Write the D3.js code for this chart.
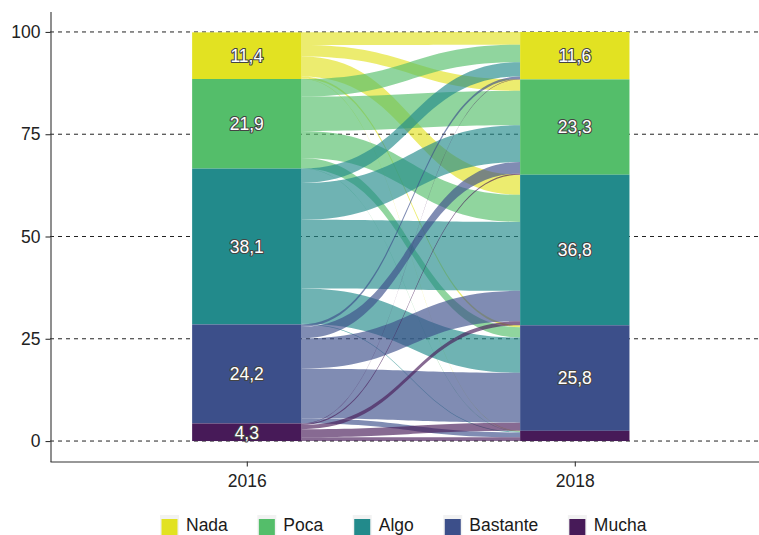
<!DOCTYPE html>
<html>
<head>
<meta charset="utf-8">
<script src="https://cdn.jsdelivr.net/npm/d3@7"></script>
<style>
  html, body { margin: 0; padding: 0; background: #fff; }
  svg { display: block; }
</style>
</head>
<body>
<script>
// ---------------- data ----------------
const years = ["2016", "2018"];
const categories = ["Nada", "Poca", "Algo", "Bastante", "Mucha"];
const colors = ["#E2E222", "#54BE6A", "#228A8B", "#3C4F8A", "#471A58"];
const totals2016 = [11.4, 21.9, 38.1, 24.2, 4.3];
const totals2018 = [11.6, 23.3, 36.8, 25.8, 2.5];
const labels2016 = ["11,4", "21,9", "38,1", "24,2", "4,3"];
const labels2018 = ["11,6", "23,3", "36,8", "25,8", ""];
// flows from each 2016 category to the 2018 categories (Nada, Poca, Algo, Bastante, Mucha)
const fromNada     = [3.1, 2.8, 4.9, 0.5, 0.1];
const fromPoca     = [4.3, 8.4, 6.6, 2.5, 0.1];
const fromAlgo     = [3.5, 9.0, 16.8, 8.6, 0.2];
const fromBastante = [0.6, 2.8, 7.4, 12.2, 1.2];
const fromMucha    = [0.1, 0.3, 1.0, 2.0, 0.9];
const yTicks = [0, 25, 50, 75, 100];

// ---------------- layout ----------------
const W = 759, H = 535;
const font = "'Liberation Sans', Arial, Helvetica, sans-serif";
const svg = d3.select("body").append("svg")
  .attr("width", W).attr("height", H)
  .style("font-family", font);

const x = d3.scalePoint().domain(years).range([50, 771.6]).padding(0.6);
const y = d3.scaleLinear().domain([-5, 105]).range([461.5, 11.5]);
const half = x.step() / 6;

// gridlines
svg.append("g").selectAll("line").data(yTicks).join("line")
  .attr("x1", 50).attr("x2", W)
  .attr("y1", d => y(d)).attr("y2", d => y(d))
  .attr("stroke", "#222").attr("stroke-width", 1)
  .attr("stroke-dasharray", "4,4");

// flows
const flows = [fromNada, fromPoca, fromAlgo, fromBastante, fromMucha];
const n = categories.length;
function stackTops(totals) {
  const tops = [];
  let acc = 0;
  for (let i = n - 1; i >= 0; i--) { acc += totals[i]; tops[i] = acc; }
  return tops;
}
const topL = stackTops(totals2016), topR = stackTops(totals2018);
const lodeL = flows.map(() => []), lodeR = flows.map(() => []);
for (let i = 0; i < n; i++) {
  const s = totals2016[i] / d3.sum(flows[i]);
  let c = topL[i];
  for (let j = 0; j < n; j++) { const h = flows[i][j] * s; lodeL[i][j] = [c, c - h]; c -= h; }
}
for (let j = 0; j < n; j++) {
  const colSum = d3.sum(flows, r => r[j]);
  const s = totals2018[j] / colSum;
  let c = topR[j];
  for (let i = 0; i < n; i++) { const h = flows[i][j] * s; lodeR[i][j] = [c, c - h]; c -= h; }
}
const x0 = x(years[0]) + half, x1 = x(years[1]) - half, xm = (x0 + x1) / 2;
const flowData = [];
for (let i = 0; i < n; i++) for (let j = 0; j < n; j++) flowData.push({ i, j });
svg.append("g").selectAll("path").data(flowData).join("path")
  .attr("d", d => {
    const a0 = y(lodeL[d.i][d.j][0]), a1 = y(lodeL[d.i][d.j][1]);
    const b0 = y(lodeR[d.i][d.j][0]), b1 = y(lodeR[d.i][d.j][1]);
    return `M${x0},${a0}C${xm},${a0} ${xm},${b0} ${x1},${b0}L${x1},${b1}C${xm},${b1} ${xm},${a1} ${x0},${a1}Z`;
  })
  .attr("fill", d => colors[d.i])
  .attr("fill-opacity", 0.65);

// strata
const strata = [];
years.forEach((yr, k) => {
  const totals = k === 0 ? totals2016 : totals2018;
  const tops = k === 0 ? topL : topR;
  const labs = k === 0 ? labels2016 : labels2018;
  for (let i = 0; i < n; i++) strata.push({ yr, i, top: tops[i], bot: tops[i] - totals[i], label: labs[i] });
});
svg.append("g").selectAll("rect").data(strata).join("rect")
  .attr("x", d => x(d.yr) - half).attr("width", 2 * half)
  .attr("y", d => y(d.top)).attr("height", d => y(d.bot) - y(d.top))
  .attr("fill", d => colors[d.i]);
svg.append("g").selectAll("text").data(strata.filter(d => d.label)).join("text")
  .attr("x", d => x(d.yr)).attr("y", d => y((d.top + d.bot) / 2))
  .attr("dy", "0.36em").attr("text-anchor", "middle")
  .attr("font-size", "17.5px")
  .attr("fill", "#fff").attr("stroke", "#444").attr("stroke-width", 2.2)
  .attr("paint-order", "stroke").attr("stroke-linejoin", "round")
  .text(d => d.label);

// axes
const yAxis = svg.append("g").attr("transform", "translate(50.5,0)")
  .call(d3.axisLeft(y).tickValues(yTicks).tickSize(5).tickSizeOuter(0).tickPadding(5));
const xAxis = svg.append("g").attr("transform", "translate(0,461.5)")
  .call(d3.axisBottom(x).tickSize(5).tickSizeOuter(0).tickPadding(8));
[yAxis, xAxis].forEach(g => {
  g.select(".domain").attr("stroke", "#333").attr("stroke-width", 1.1);
  g.selectAll(".tick line").attr("stroke", "#333").attr("stroke-width", 1.1);
  g.selectAll(".tick text").attr("font-size", "17.5px").attr("fill", "#222").attr("font-family", font);
});

// legend
let cx = 160;
categories.forEach((c, i) => {
  const g = svg.append("g");
  g.append("rect").attr("x", cx).attr("y", 515).attr("width", 19).attr("height", 25).attr("fill", "#F2F2F2");
  g.append("rect").attr("x", cx + 1.5).attr("y", 519).attr("width", 16).attr("height", 16).attr("fill", colors[i]);
  const t = g.append("text").attr("x", cx + 26).attr("y", 531).attr("font-size", "17.5px").attr("fill", "#1a1a1a").text(c);
  cx = cx + 26 + t.node().getComputedTextLength() + 29.5;
});
</script>
</body>
</html>
